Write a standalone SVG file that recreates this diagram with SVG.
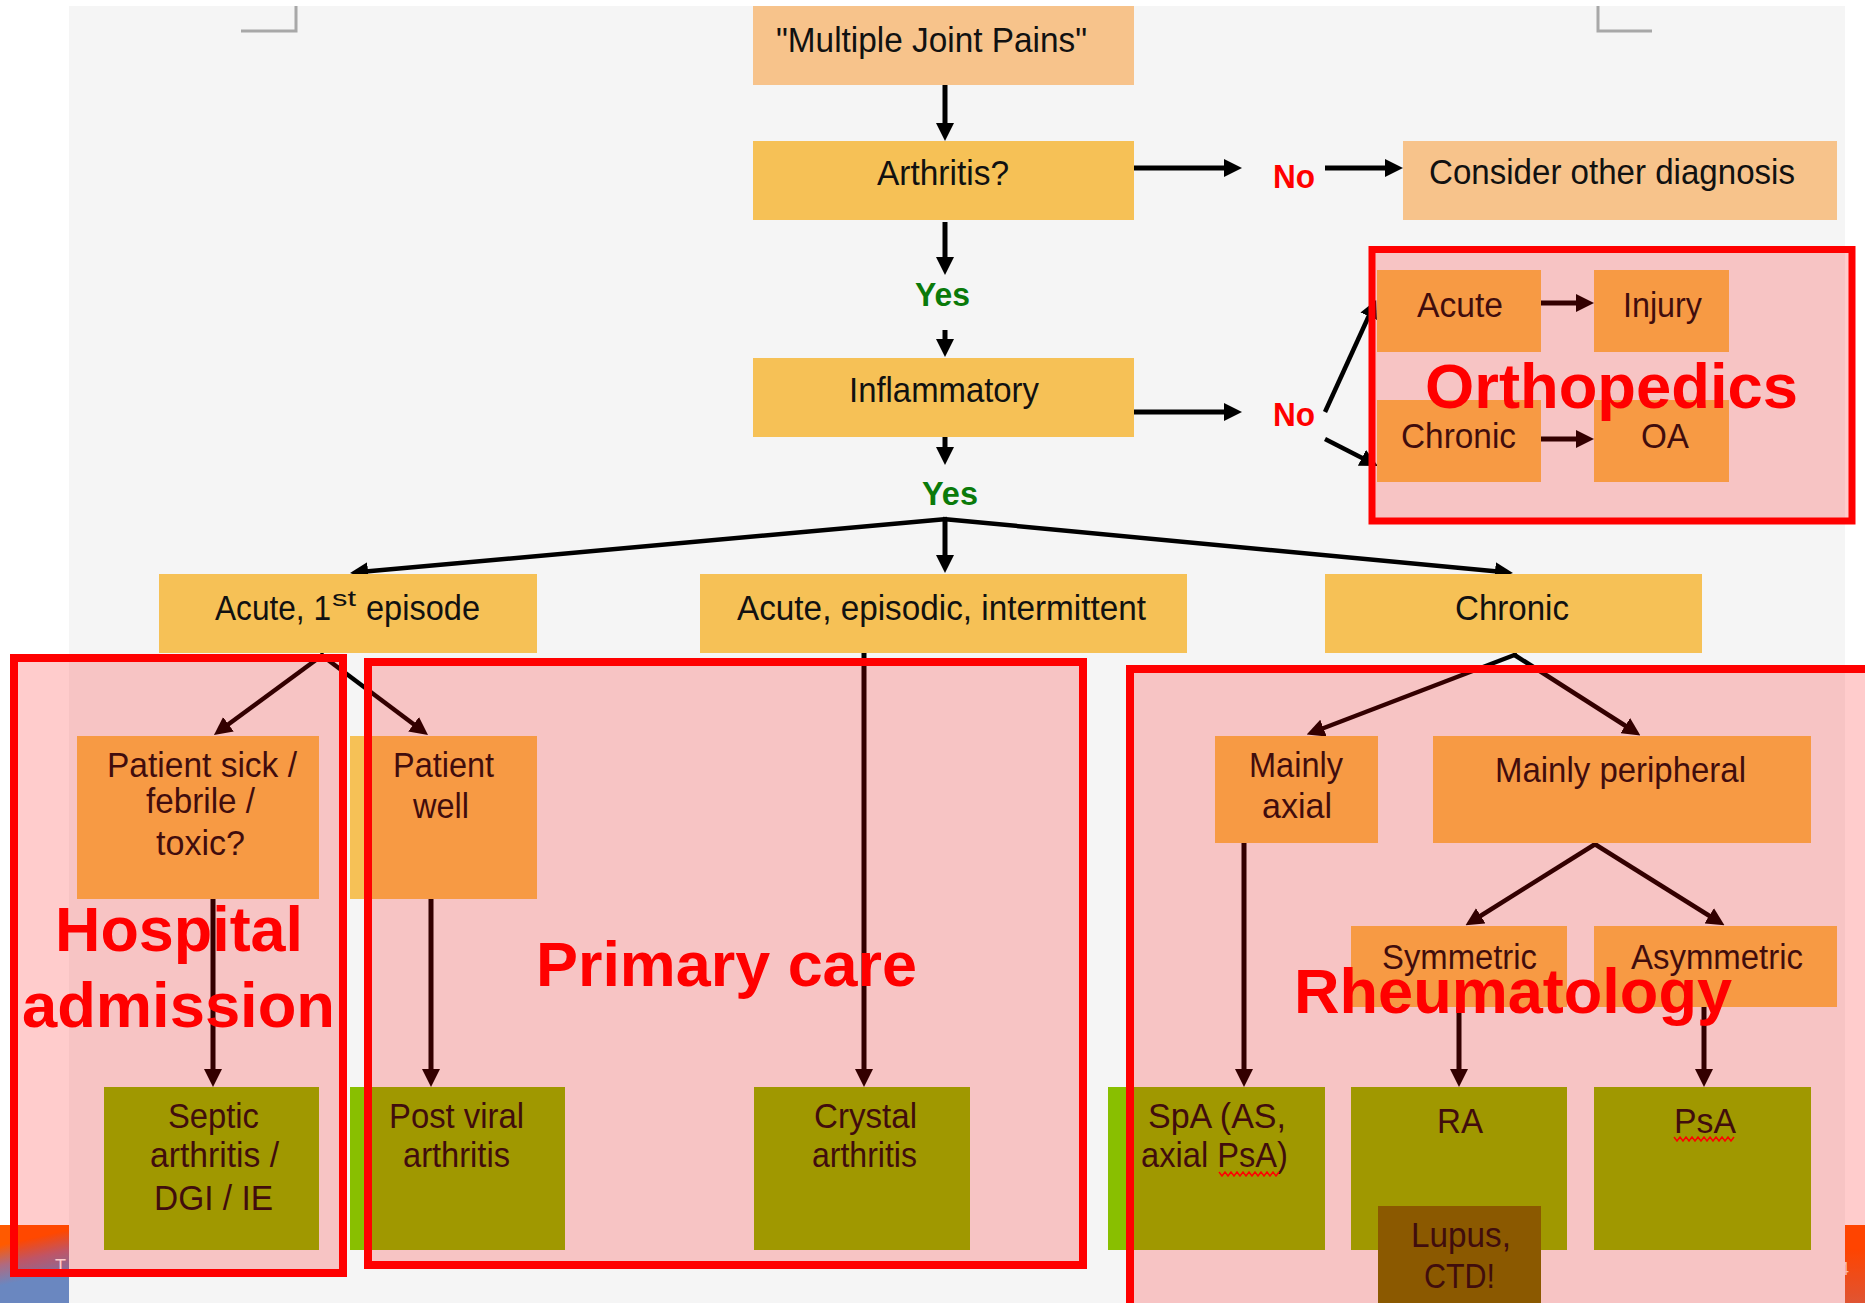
<svg xmlns="http://www.w3.org/2000/svg" width="1865" height="1303" viewBox="0 0 1865 1303">
<style>
.t{font-family:"Liberation Sans",Arial,sans-serif;font-size:35px;fill:#111}
.yes{font-family:"Liberation Sans",Arial,sans-serif;font-size:34px;font-weight:bold;fill:#0a7a0a}
.no{font-family:"Liberation Sans",Arial,sans-serif;font-size:34px;font-weight:bold;fill:#ff0000}
.lbl{font-family:"Liberation Sans",Arial,sans-serif;font-size:63px;font-weight:bold;fill:#ff0000}
.pk{fill:#f7c38b}
.gd{fill:#f6c156}
.gr{fill:#89bf00}
.br{fill:#6e7000}
.c{stroke:#000;stroke-width:5;fill:none;marker-end:url(#ah)}
.d{stroke:#000;stroke-width:4.5;fill:none;marker-end:url(#ah)}
.reg{fill:#ff0000;fill-opacity:0.2;stroke:#ff0000;stroke-width:8}
.wv{stroke:#ff0000;stroke-width:1.5;fill:none}
</style>
<defs>
<marker id="ah" markerUnits="userSpaceOnUse" markerWidth="18" markerHeight="18" viewBox="0 0 18 18" refX="8" refY="9" orient="auto">
<path d="M0,0 L18,9 L0,18 z" fill="#000"/>
</marker>
<linearGradient id="gbl" x1="0" y1="0" x2="0.2" y2="1">
<stop offset="0.25" stop-color="#ff5a00"/>
<stop offset="0.5" stop-color="#b06a80"/>
<stop offset="0.75" stop-color="#6a87c0"/>
</linearGradient>
<linearGradient id="gbr" x1="0" y1="0" x2="0" y2="1">
<stop offset="0.3" stop-color="#ff5500"/>
<stop offset="1" stop-color="#d86a40"/>
</linearGradient>
</defs>
<rect x="0" y="0" width="1865" height="1303" fill="#ffffff"/>
<g id="footer">
<rect x="0" y="1225" width="69" height="78" fill="url(#gbl)"/>
<text x="55" y="1272" style="font-family:'Liberation Sans',Arial,sans-serif;font-size:18px;fill:#fff">T</text>
<rect x="1845" y="1225" width="20" height="78" fill="url(#gbr)"/>
<text x="1839" y="1275" style="font-family:'Liberation Sans',Arial,sans-serif;font-size:18px;fill:#fff;fill-opacity:0.85">4</text>
</g>
<rect x="69" y="6" width="1776" height="1297" fill="#f5f5f5"/>
<g id="marks" stroke="#a8a8a8" stroke-width="3" fill="none">
<path d="M241,31 H296 V6"/>
<path d="M1598,6 V31 H1652"/>
</g>
<g id="connectors">
<line class="c" x1="945" y1="85" x2="945" y2="131"/>
<line class="c" x1="945" y1="222" x2="945" y2="265"/>
<line class="c" x1="945" y1="330" x2="945" y2="347"/>
<line class="c" x1="1134" y1="168" x2="1232" y2="168"/>
<line class="c" x1="1325" y1="168" x2="1393" y2="168"/>
<line class="c" x1="1134" y1="412" x2="1232" y2="412"/>
<line class="c" x1="945" y1="437" x2="945" y2="455"/>
<line class="c" x1="945" y1="519" x2="945" y2="563"/>
<line class="d" x1="947" y1="519" x2="360" y2="572"/>
<line class="d" x1="943" y1="519" x2="1503" y2="572"/>
<line class="d" x1="1325" y1="412" x2="1372" y2="309"/>
<line class="d" x1="1325" y1="439" x2="1369" y2="461.5"/>
<line class="c" x1="1541" y1="303" x2="1584" y2="303"/>
<line class="c" x1="1541" y1="439" x2="1584" y2="439"/>
<line class="d" x1="324" y1="654" x2="222" y2="729"/>
<line class="d" x1="320" y1="654" x2="420" y2="729"/>
<line class="c" x1="213" y1="899" x2="213" y2="1077"/>
<line class="c" x1="431" y1="899" x2="431" y2="1077"/>
<line class="c" x1="864" y1="653" x2="864" y2="1077"/>
<line class="d" x1="1517" y1="654" x2="1316" y2="731"/>
<line class="d" x1="1513" y1="654" x2="1632" y2="730"/>
<line class="c" x1="1244" y1="843" x2="1244" y2="1077"/>
<line class="d" x1="1597" y1="843" x2="1474" y2="920"/>
<line class="d" x1="1593" y1="843" x2="1716" y2="920"/>
<line class="c" x1="1459" y1="1007" x2="1459" y2="1077"/>
<line class="c" x1="1704" y1="1007" x2="1704" y2="1077"/>
</g>
<g id="n_mjp"><rect class="pk" x="753" y="6" width="381" height="79"/><text class="t" x="776" y="52" textLength="311" lengthAdjust="spacingAndGlyphs">"Multiple Joint Pains"</text></g>
<g id="n_arthritis"><rect class="gd" x="753" y="141" width="381" height="79"/><text class="t" x="877" y="185" textLength="132" lengthAdjust="spacingAndGlyphs">Arthritis?</text></g>
<g id="l_yes1"><text class="yes" x="915" y="306" textLength="55" lengthAdjust="spacingAndGlyphs">Yes</text></g>
<g id="n_inflammatory"><rect class="gd" x="753" y="358" width="381" height="79"/><text class="t" x="849" y="402" textLength="190" lengthAdjust="spacingAndGlyphs">Inflammatory</text></g>
<g id="l_yes2"><text class="yes" x="922" y="505" textLength="56" lengthAdjust="spacingAndGlyphs">Yes</text></g>
<g id="l_no1"><text class="no" x="1273" y="188" textLength="42" lengthAdjust="spacingAndGlyphs">No</text></g>
<g id="l_no2"><text class="no" x="1273" y="426" textLength="42" lengthAdjust="spacingAndGlyphs">No</text></g>
<g id="n_consider"><rect class="pk" x="1403" y="141" width="434" height="79"/><text class="t" x="1429" y="184" textLength="366" lengthAdjust="spacingAndGlyphs">Consider other diagnosis</text></g>
<g id="n_o_acute"><rect class="gd" x="1377" y="270" width="164" height="82"/><text class="t" x="1417" y="317" textLength="86" lengthAdjust="spacingAndGlyphs">Acute</text></g>
<g id="n_o_injury"><rect class="gd" x="1594" y="270" width="135" height="82"/><text class="t" x="1623" y="317" textLength="79" lengthAdjust="spacingAndGlyphs">Injury</text></g>
<g id="n_o_chronic"><rect class="gd" x="1377" y="400" width="164" height="82"/><text class="t" x="1401" y="448" textLength="115" lengthAdjust="spacingAndGlyphs">Chronic</text></g>
<g id="n_o_oa"><rect class="gd" x="1594" y="400" width="135" height="82"/><text class="t" x="1641" y="448" textLength="48" lengthAdjust="spacingAndGlyphs">OA</text></g>
<g id="n_acute1"><rect class="gd" x="159" y="574" width="378" height="79"/><text class="t" x="215" y="620" textLength="116" lengthAdjust="spacingAndGlyphs">Acute, 1</text><text class="t" x="332" y="606" style="font-size:22px" textLength="24" lengthAdjust="spacingAndGlyphs">st</text><text class="t" x="366" y="620" textLength="114" lengthAdjust="spacingAndGlyphs">episode</text></g>
<g id="n_episodic"><rect class="gd" x="700" y="574" width="487" height="79"/><text class="t" x="737" y="620" textLength="409" lengthAdjust="spacingAndGlyphs">Acute, episodic, intermittent</text></g>
<g id="n_chronic"><rect class="gd" x="1325" y="574" width="377" height="79"/><text class="t" x="1455" y="620" textLength="114" lengthAdjust="spacingAndGlyphs">Chronic</text></g>
<g id="n_sick"><rect class="gd" x="77" y="736" width="242" height="163"/><text class="t" x="107" y="777" textLength="190" lengthAdjust="spacingAndGlyphs">Patient sick /</text><text class="t" x="146" y="813" textLength="109" lengthAdjust="spacingAndGlyphs">febrile /</text><text class="t" x="156" y="855" textLength="89" lengthAdjust="spacingAndGlyphs">toxic?</text></g>
<g id="n_well"><rect class="gd" x="350" y="736" width="187" height="163"/><text class="t" x="393" y="777" textLength="101" lengthAdjust="spacingAndGlyphs">Patient</text><text class="t" x="413" y="818" textLength="56" lengthAdjust="spacingAndGlyphs">well</text></g>
<g id="n_axial"><rect class="gd" x="1215" y="736" width="163" height="107"/><text class="t" x="1249" y="777" textLength="94" lengthAdjust="spacingAndGlyphs">Mainly</text><text class="t" x="1262" y="818" textLength="70" lengthAdjust="spacingAndGlyphs">axial</text></g>
<g id="n_peripheral"><rect class="gd" x="1433" y="736" width="378" height="107"/><text class="t" x="1495" y="782" textLength="251" lengthAdjust="spacingAndGlyphs">Mainly peripheral</text></g>
<g id="n_sym"><rect class="gd" x="1351" y="926" width="216" height="81"/><text class="t" x="1382" y="969" textLength="155" lengthAdjust="spacingAndGlyphs">Symmetric</text></g>
<g id="n_asym"><rect class="gd" x="1594" y="926" width="243" height="81"/><text class="t" x="1631" y="969" textLength="172" lengthAdjust="spacingAndGlyphs">Asymmetric</text></g>
<g id="n_septic"><rect class="gr" x="104" y="1087" width="215" height="163"/><text class="t" x="168" y="1128" textLength="91" lengthAdjust="spacingAndGlyphs">Septic</text><text class="t" x="150" y="1167" textLength="129" lengthAdjust="spacingAndGlyphs">arthritis /</text><text class="t" x="154" y="1210" textLength="119" lengthAdjust="spacingAndGlyphs">DGI / IE</text></g>
<g id="n_postviral"><rect class="gr" x="350" y="1087" width="215" height="163"/><text class="t" x="389" y="1128" textLength="135" lengthAdjust="spacingAndGlyphs">Post viral</text><text class="t" x="403" y="1167" textLength="107" lengthAdjust="spacingAndGlyphs">arthritis</text></g>
<g id="n_crystal"><rect class="gr" x="754" y="1087" width="216" height="163"/><text class="t" x="814" y="1128" textLength="103" lengthAdjust="spacingAndGlyphs">Crystal</text><text class="t" x="812" y="1167" textLength="105" lengthAdjust="spacingAndGlyphs">arthritis</text></g>
<g id="n_spa"><rect class="gr" x="1108" y="1087" width="217" height="163"/><text class="t" x="1148" y="1128" textLength="138" lengthAdjust="spacingAndGlyphs">SpA (AS,</text><text class="t" x="1141" y="1167" textLength="147" lengthAdjust="spacingAndGlyphs">axial PsA)</text><path class="wv" d="M1219,1172 l3,4 l3,-4 l3,4 l3,-4 l3,4 l3,-4 l3,4 l3,-4 l3,4 l3,-4 l3,4 l3,-4 l3,4 l3,-4 l3,4 l3,-4 l3,4 l3,-4 l3,4 l3,-4"/></g>
<g id="n_ra"><rect class="gr" x="1351" y="1087" width="216" height="163"/><text class="t" x="1437" y="1133" textLength="46" lengthAdjust="spacingAndGlyphs">RA</text></g>
<g id="n_psa"><rect class="gr" x="1594" y="1087" width="217" height="163"/><text class="t" x="1674" y="1133" textLength="62" lengthAdjust="spacingAndGlyphs">PsA</text><path class="wv" d="M1674,1137 l3,4 l3,-4 l3,4 l3,-4 l3,4 l3,-4 l3,4 l3,-4 l3,4 l3,-4 l3,4 l3,-4 l3,4 l3,-4 l3,4 l3,-4 l3,4 l3,-4 l3,4 l3,-4"/></g>
<g id="n_lupus"><rect class="br" x="1378" y="1206" width="163" height="110"/><text class="t" x="1411" y="1247" textLength="100" lengthAdjust="spacingAndGlyphs">Lupus,</text><text class="t" x="1424" y="1288" textLength="71" lengthAdjust="spacingAndGlyphs">CTD!</text></g>
<g id="r_ortho"><rect class="reg" x="1372" y="249.5" width="480" height="271.5" style="stroke-width:7"/></g>
<g id="r_hospital"><rect class="reg" x="14" y="658" width="329" height="615"/></g>
<g id="r_primary"><rect class="reg" x="368" y="662" width="715" height="603"/></g>
<g id="r_rheum"><rect class="reg" x="1130" y="669" width="760" height="660"/></g>
<g id="labels">
<text class="lbl" x="1425" y="408" textLength="373" lengthAdjust="spacingAndGlyphs">Orthopedics</text>
<text class="lbl" x="55" y="951" textLength="248" lengthAdjust="spacingAndGlyphs">Hospital</text>
<text class="lbl" x="22" y="1027" textLength="313" lengthAdjust="spacingAndGlyphs">admission</text>
<text class="lbl" x="536" y="986" textLength="381" lengthAdjust="spacingAndGlyphs">Primary care</text>
<text class="lbl" x="1294" y="1013" textLength="438" lengthAdjust="spacingAndGlyphs">Rheumatology</text>
</g>
</svg>
